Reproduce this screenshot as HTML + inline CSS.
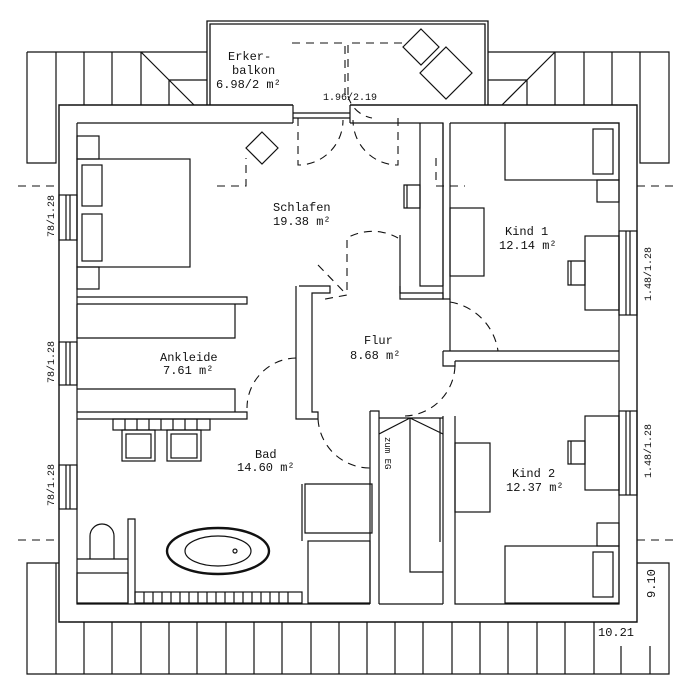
<!DOCTYPE html>
<html><head><meta charset="utf-8"><style>html,body{margin:0;padding:0;background:#fff}svg{display:block}text{font-family:"Liberation Mono",monospace;font-size:12px;fill:#111}</style></head><body>
<svg width="693" height="692" viewBox="0 0 693 692" xmlns="http://www.w3.org/2000/svg">
<g fill="none" stroke="#111" stroke-width="1.2">
<path d="M27 52H207M27 52V163H56V52M84 52V105M112 52V105M141 52V105M141 52L194 105M169 80H207M169 80V105"/>
<path d="M488 52H669V163H640V52M612 52V105M584 52V105M555 52V105M555 52L502 105M527 80H488M527 80V105"/>
<path d="M59 563H27V674H669V563H637M56 563V674M84 622V674M112 622V674M141 622V674M169 622V674M197 622V674M226 622V674M254 622V674M282 622V674M311 622V674M339 622V674M367 622V674M395 622V674M423 622V674M452 622V674M480 622V674M508 622V674M537 622V674M565 622V674M594 622V674M621 646V674M650 646V674"/>
<path d="M207 105V21H488V105M210 105V24H485V105" stroke-width="1.3"/>
<path d="M293 105H59V622H637V105H350" stroke-width="1.4"/>
<path d="M77 123H293M350 123H443V299H400V235M450 123H619V604H455V416M443 416V604M77 123V604H370M379 604H443"/>
<path d="M293 105V123M350 105V123M293 113H350M293 118H350"/>
<rect x="59" y="195" width="18" height="45"/><path d="M66 195V240M70 195V240"/>
<rect x="59" y="342" width="18" height="43"/><path d="M66 342V385M70 342V385"/>
<rect x="59" y="465" width="18" height="44"/><path d="M66 465V509M70 465V509"/>
<rect x="619" y="231" width="18" height="84"/><path d="M626 231V315M630 231V315"/>
<rect x="619" y="411" width="18" height="84"/><path d="M626 411V495M630 411V495"/>
<path d="M77 297H247V304H77M77 304V338H235V304"/>
<path d="M77 389H235V412M77 412H247V419H77"/>
<path d="M299 286H330V293H312V412H318V419H296V286"/>
<path d="M420 123V286H443M400 286V293H443V299H450V123M443 123V286"/>
<path d="M450 299V351H619M455 361H619M443 351V366H455V361M443 351H450"/>
<path d="M370 411H379V604M370 411V604M379 418H443M410 418V572H443M440 418V542M379 434L410 418L443 434"/>
<rect x="113" y="419" width="97" height="11"/>
<path d="M125 419V430M137 419V430M149 419V430M161 419V430M173 419V430M185 419V430M197 419V430"/>
<rect x="122" y="430" width="33" height="31"/><rect x="126" y="434" width="25" height="24"/>
<rect x="167" y="430" width="34" height="31"/><rect x="171" y="434" width="26" height="24"/>
<path d="M128 604V519H135V604M77 559H128"/>
<path d="M90 559V536A12 12 0 0 1 114 536V559"/>
<rect x="77" y="573" width="51" height="30"/>
<ellipse cx="218" cy="551" rx="51" ry="23" stroke-width="2.4"/>
<ellipse cx="218" cy="551" rx="33" ry="15"/><circle cx="235" cy="551" r="2"/>
<rect x="135" y="592" width="167" height="11"/>
<path d="M144 592V603M153 592V603M162 592V603M171 592V603M180 592V603M189 592V603M198 592V603M207 592V603M216 592V603M225 592V603M234 592V603M243 592V603M252 592V603M261 592V603M270 592V603M279 592V603M288 592V603"/>
<path d="M305 484H372V533H305ZM302 484V541"/>
<rect x="308" y="541" width="62" height="62"/>
<rect x="77" y="159" width="113" height="108"/>
<rect x="82" y="165" width="20" height="41"/><rect x="82" y="214" width="20" height="47"/>
<rect x="77" y="136" width="22" height="23"/><rect x="77" y="267" width="22" height="22"/>
<path d="M262 132L278 148L262 164L246 148Z"/>
<path d="M404 185H420V208H404Z M407 185V208"/>
<path d="M421 29L439 47L421 65L403 47Z"/>
<path d="M446 47L472 73L446 99L420 73Z"/>
<rect x="505" y="123" width="114" height="57"/><rect x="593" y="129" width="20" height="45"/>
<rect x="597" y="180" width="22" height="22"/>
<rect x="585" y="236" width="34" height="74"/>
<path d="M568 261H585V285H568ZM571 261V285"/>
<rect x="450" y="208" width="34" height="68"/>
<rect x="585" y="416" width="34" height="74"/>
<path d="M568 441H585V464H568ZM571 441V464"/>
<rect x="455" y="443" width="35" height="69"/>
<rect x="505" y="546" width="114" height="57"/><rect x="593" y="552" width="20" height="45"/>
<rect x="597" y="523" width="22" height="23"/>
</g>
<g fill="none" stroke="#111" stroke-width="1.1" stroke-dasharray="8,6">
<path d="M18 186H59M637 186H678M18 540H59M637 540H678"/>
<path d="M217 186H246V158"/>
<path d="M292 43H345V95M348 95V43H405"/>
<path d="M436 158V186H465"/>
<path d="M298 118V165H300A45 45 0 0 0 343 120"/>
<path d="M398 118V165H396A45 45 0 0 1 353 120"/>
<path d="M347 290V238A52 52 0 0 1 398 238" />
<path d="M318 265L347 295L320 300"/>
<path d="M450 302A58 58 0 0 1 498 351"/>
<path d="M455 366A52 52 0 0 1 405 416"/>
<path d="M296 358A50 50 0 0 0 247 408"/>
<path d="M318 419A52 52 0 0 0 370 468"/>
<path d="M348 96A30 30 0 0 0 372 118"/>
</g>
<text x="228" y="60">Erker-</text>
<text x="232" y="74">balkon</text>
<text x="216" y="88">6.98/2 m²</text>
<text x="323" y="100" style="font-size:10px">1.96/2.19</text>
<text x="273" y="211">Schlafen</text>
<text x="273" y="225">19.38 m²</text>
<text x="505" y="235">Kind 1</text>
<text x="499" y="249">12.14 m²</text>
<text x="160" y="361">Ankleide</text>
<text x="163" y="374">7.61 m²</text>
<text x="364" y="344">Flur</text>
<text x="350" y="359">8.68 m²</text>
<text x="255" y="458">Bad</text>
<text x="237" y="471">14.60 m²</text>
<text x="512" y="477">Kind 2</text>
<text x="506" y="491">12.37 m²</text>
<text x="598" y="636">10.21</text>
<text transform="translate(655,598) rotate(-90)">9.10</text>
<text transform="translate(54,237) rotate(-90)" style="font-size:10px">78/1.28</text>
<text transform="translate(54,383) rotate(-90)" style="font-size:10px">78/1.28</text>
<text transform="translate(54,506) rotate(-90)" style="font-size:10px">78/1.28</text>
<text transform="translate(651,301) rotate(-90)" style="font-size:10px">1.48/1.28</text>
<text transform="translate(651,478) rotate(-90)" style="font-size:10px">1.48/1.28</text>
<text transform="translate(385,437) rotate(90)" style="font-size:9px">zum EG</text>
</svg>
</body></html>
